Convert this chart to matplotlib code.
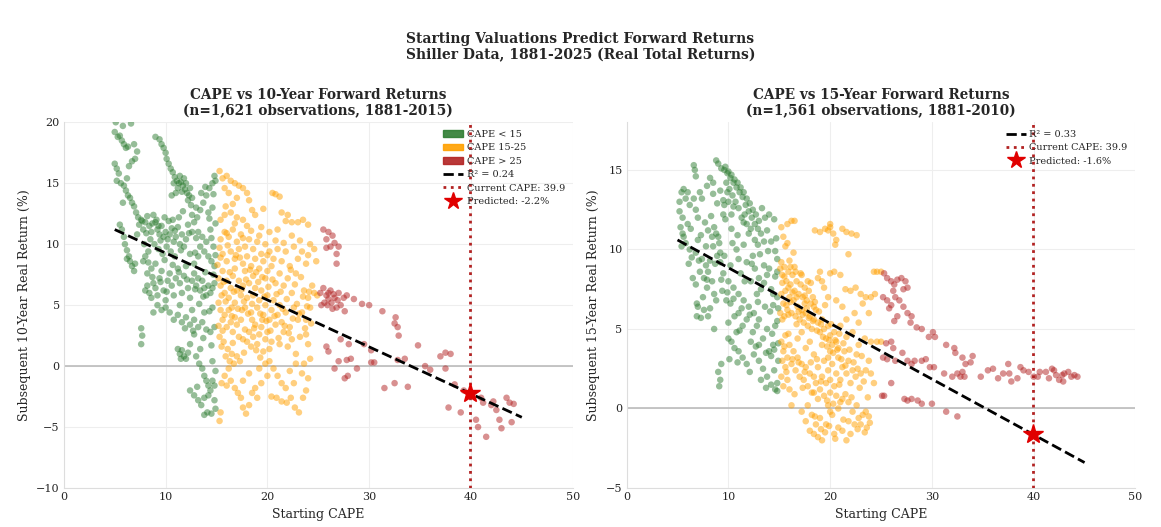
import matplotlib
matplotlib.use("Agg")
import matplotlib.pyplot as plt
import matplotlib.patches as mpatches
from matplotlib.lines import Line2D
import numpy as np
import seaborn as sns

# ---- data (CAPE, forward real return %) ----
# 10-year panel
cape10 = [
    # CAPE < 15
    5.0, 5.1, 5.3, 5.5, 5.7, 5.9, 6.1, 6.3, 6.6, 5.8, 6.9, 7.2, 7.0, 6.7, 6.4, 5.0, 5.2, 5.4, 5.2, 5.6,
    5.9, 6.1, 6.3, 6.5, 6.7, 6.9, 6.2, 5.8, 7.1, 7.3,
    9.0, 9.4, 9.6, 9.8, 10.0, 10.1, 10.3, 10.5, 10.7, 10.9, 11.1, 11.3, 11.5, 11.7, 11.9, 12.1, 12.3, 11.2,
    11.6, 12.0, 12.4, 11.8, 11.4, 10.8, 12.2, 12.5, 11.0, 10.6, 12.6,
    12.8, 13.1, 13.4, 13.7, 14.0, 14.3, 14.6, 14.8, 14.9, 13.5, 13.2, 13.6, 14.0, 14.4, 14.7, 12.6, 13.0,
    14.2, 14.6,
    7.4, 7.6, 7.8, 8.0, 8.2, 8.4, 8.6, 8.8, 9.0, 9.2, 9.4, 9.6, 9.8, 10.0, 10.2, 10.4, 10.6, 10.8, 11.0,
    11.2, 11.4, 11.6, 11.8, 12.0, 8.5, 8.9, 9.3, 9.7, 10.1, 10.5, 10.9, 9.1, 9.9, 10.7, 7.2, 7.9, 8.3,
    11.3, 12.2, 12.6, 13.0, 13.4, 13.8, 14.2, 14.5, 14.8, 13.2, 12.8, 12.4,
    5.5, 5.7, 5.9, 6.0, 6.2, 6.4, 6.5, 6.7, 6.9, 7.0, 6.2,
    8.0, 8.2, 8.4, 8.6, 8.8, 9.0, 9.2, 9.4, 9.6, 9.8, 10.0, 10.2, 10.4, 10.6, 10.8, 11.0, 11.2, 11.4, 11.6,
    11.8, 12.0, 12.2, 12.4, 12.6, 12.8, 13.0, 13.2, 13.4, 13.6, 13.8, 14.0, 14.2, 14.4, 14.6, 14.8, 10.0,
    10.4, 10.8, 11.2, 11.6, 12.0, 12.4, 12.8, 13.2, 13.6, 14.0, 14.4, 14.8, 9.6, 9.2, 8.8, 11.4, 12.6, 13.8,
    14.6, 9.0, 8.6, 8.2, 7.8, 8.0,
    7.6, 7.7, 7.6, 11.2, 11.4, 11.6, 11.8, 12.0, 11.5, 12.2, 12.4, 12.8, 13.0, 13.3, 13.6, 13.8, 14.0, 14.2,
    14.4, 14.6, 14.8, 14.9, 14.2, 13.8, 13.2, 12.8, 13.5, 13.8, 14.1, 14.5, 14.8, 13.4, 14.6, 12.4,
    8.1, 8.7, 9.3, 9.5, 10.3, 10.9, 11.5, 12.3, 7.7, 9.9, 10.7, 11.3, 12.1, 12.9, 13.3, 13.7, 14.3, 14.7,
    14.9, 13.9, 14.5, 12.9, 11.7, 10.1, 9.5, 8.7, 8.3, 14.9, 14.3, 13.9, 14.7, 11.9, 12.7, 13.7, 14.5, 14.9,
    13.1,
    # CAPE 15-25
    15.3, 15.6, 16.0, 16.4, 16.8, 17.2, 17.6, 18.0, 18.2, 15.8, 16.2, 17.0, 18.5, 20.5, 20.8, 21.2, 15.4,
    15.8, 16.4, 17.0, 17.6, 21.4, 22.0, 22.4, 23.0, 23.5, 24.0, 18.8, 19.4, 20.2, 21.0,
    15.4, 15.8, 16.2, 16.6, 17.0, 17.4, 17.8, 18.2, 18.6, 19.0, 19.4, 19.8, 20.2, 20.6, 21.0, 21.4, 21.8,
    22.2, 22.6, 23.0, 23.4, 23.8, 24.2, 24.6, 24.8, 15.6, 16.0, 16.4, 16.8, 17.2, 17.6, 18.0, 18.4, 18.8,
    19.2, 19.6, 20.0, 20.4, 21.2, 22.0, 22.8,
    15.2, 15.4, 15.6, 15.8, 16.0, 16.2, 16.4, 16.6, 16.8, 17.0, 17.2, 17.4, 17.6, 17.8, 18.0, 18.2, 18.4,
    18.6, 18.8, 19.0, 19.2, 19.4, 19.6, 19.8, 20.0, 20.2, 20.4, 20.6, 20.8, 21.0, 21.2, 21.4, 21.8, 22.2,
    22.6, 23.0, 23.4, 23.8, 15.2, 15.4, 15.6, 15.8, 16.0, 16.2, 16.4, 16.6, 16.8, 17.0, 17.2, 17.4, 17.6,
    17.8, 18.0, 18.2, 18.4, 18.6, 18.8, 19.0, 19.2, 19.4, 19.6, 19.8, 20.0, 20.2, 20.4, 15.3, 15.5, 15.7,
    15.9, 16.1, 16.3, 16.5, 16.7, 17.0, 17.3, 24.4, 24.6, 24.9, 24.2, 24.0, 23.6, 22.4, 21.6, 20.8, 19.8,
    18.6, 17.8, 16.8, 23.2, 23.8, 24.0, 22.8, 24.2, 23.6, 21.2, 22.0, 15.5, 16.5, 17.5, 18.5, 19.5, 21.6,
    22.4,
    15.5, 15.8, 16.0, 16.4, 16.8, 17.1, 17.4, 17.6, 17.9, 18.2, 18.5, 18.8, 19.0, 15.3, 15.4, 16.2, 17.6,
    18.2, 19.2, 19.8, 20.2, 20.6, 21.0, 21.4, 21.8, 20.4, 20.9, 21.4, 21.9, 22.3, 22.7, 23.1, 23.5, 23.8,
    24.0, 22.6, 22.2, 22.8, 23.4, 20.0, 19.4,
    15.1, 15.3, 15.7, 15.9, 16.1, 16.3, 16.5, 16.7, 16.9, 17.1, 17.3, 17.5, 17.7, 17.9, 18.1, 18.3, 18.5,
    18.7, 18.9, 19.1, 19.3, 19.5, 19.7, 19.9, 20.1, 20.3, 20.5, 20.7, 20.9, 21.1, 21.3, 21.5, 21.7, 21.9,
    22.1, 22.3, 22.5, 22.7, 22.9, 23.1, 23.3, 23.5, 23.7, 23.9, 24.1, 24.3, 15.2, 15.6, 16.6, 17.7, 18.9,
    19.3, 15.4, 16.0, 16.8, 17.6, 18.4, 19.2, 20.0, 20.8, 21.6, 22.4, 23.2, 24.0, 21.8, 19.6, 18.0, 16.6,
    15.9,
    # CAPE > 25
    25.5, 26.0, 26.4, 25.8, 26.2, 25.8, 26.6, 27.0, 26.8, 26.8, 25.2, 25.5, 25.8, 26.0, 26.3, 26.6, 26.9,
    27.2, 27.5, 27.8, 25.6, 26.2, 26.8, 27.6, 25.3, 26.4, 26.0, 26.5, 27.0, 25.9, 28.5, 29.3, 30.0, 31.3,
    32.6, 32.5, 32.8, 32.9, 28.0, 29.5, 30.2, 27.8, 28.2, 27.2, 25.8, 26.0, 27.0, 26.6, 28.8, 27.9, 27.6,
    30.2, 30.5, 31.5, 32.5, 33.8, 32.8, 33.5, 34.8, 35.5, 36.0, 37.0, 37.5, 38.0, 37.5, 38.4, 37.8, 39.0,
    40.5, 40.7, 41.0, 41.5, 42.0, 42.5, 42.8, 43.0, 43.5, 43.8, 44.2, 44.0, 39.3, 41.2, 42.2,
]
ret10 = [
    19.2, 20.0, 18.8, 18.9, 18.5, 18.2, 17.9, 18.0, 19.9, 19.7, 18.2, 17.6, 17.0, 16.8, 16.4, 16.6, 16.2,
    15.8, 15.2, 15.0, 14.8, 14.4, 14.0, 13.8, 13.4, 13.1, 15.4, 13.4, 12.6, 12.2,
    18.8, 18.6, 18.2, 17.9, 17.5, 17.0, 16.6, 16.2, 15.9, 15.5, 15.2, 15.0, 15.1, 14.8, 14.5, 14.2, 14.0,
    14.6, 14.3, 15.0, 14.6, 15.4, 15.6, 15.0, 13.6, 13.2, 14.2, 14.0, 13.8,
    11.8, 12.2, 12.8, 13.4, 14.0, 14.6, 15.0, 15.6, 15.2, 14.2, 11.0, 10.6, 10.2, 11.2, 9.8, 12.4, 13.0,
    12.6, 13.0,
    11.6, 12.0, 11.2, 11.8, 12.3, 11.5, 11.0, 12.4, 11.8, 11.2, 10.8, 11.5, 10.6, 11.0, 10.4, 10.8, 11.3,
    10.2, 10.6, 11.4, 10.0, 10.8, 9.8, 10.4, 10.4, 10.0, 9.6, 9.2, 9.8, 9.4, 9.0, 12.0, 12.2, 12.0, 10.8,
    10.0, 9.4, 12.2, 11.6, 11.0, 10.5, 9.8, 9.4, 9.0, 8.6, 8.2, 9.0, 8.4, 9.2,
    11.6, 11.2, 10.6, 10.0, 9.5, 9.0, 8.6, 8.2, 7.8, 8.4, 8.8,
    6.2, 6.6, 6.0, 5.6, 6.8, 6.4, 5.8, 7.2, 7.8, 6.2, 5.4, 7.0, 7.6, 6.6, 5.8, 7.2, 8.0, 6.8, 6.0, 7.4,
    8.2, 6.4, 5.6, 7.0, 7.6, 6.6, 7.2, 6.2, 7.0, 6.4, 5.8, 6.6, 6.0, 6.4, 6.8, 4.8, 4.4, 3.8, 4.2, 3.6,
    4.0, 3.4, 3.8, 3.2, 3.6, 3.0, 2.8, 3.2, 4.6, 5.0, 4.4, 5.0, 4.6, 4.4, 4.8, 8.4, 8.0, 7.6, 8.6, 9.0,
    3.1, 2.5, 1.8, 1.4, 1.0, 1.3, 0.8, 0.6, 0.6, 1.1, 1.8, 2.6, 0.8, 0.2, -0.2, -0.8, -1.2, -1.6, -2.0,
    -1.2, -1.6, -0.4, -2.4, -2.6, -2.8, -2.4, -3.2, -4.0, -3.8, -3.9, -2.8, 1.4, 0.4, -2.0,
    10.9, 11.7, 11.5, 10.3, 11.9, 11.1, 9.5, 10.9, 11.9, 8.7, 8.3, 7.7, 7.1, 6.3, 5.1, 5.7, 4.5, 7.5, 9.1,
    7.7, 10.5, 9.3, 12.7, 6.1, 6.9, 7.3, 8.5, 11.7, 12.1, 14.7, 14.1, 3.1, 2.9, 2.3, 1.7, -3.5, -1.7,
    16.0, 15.4, 15.6, 15.2, 15.0, 14.8, 14.6, 14.2, 13.6, 14.6, 14.2, 13.8, 12.8, 14.2, 14.1, 13.9, 12.0,
    12.4, 12.6, 12.2, 12.0, 12.6, 12.4, 11.8, 11.8, 12.0, 11.6, 12.4, 11.4, 11.0, 11.2,
    10.4, 11.0, 10.6, 11.2, 10.2, 10.8, 9.8, 10.4, 9.6, 10.2, 9.2, 10.0, 9.4, 8.8, 9.6, 8.6, 9.4, 8.2, 9.8,
    8.8, 9.4, 8.4, 10.0, 9.6, 8.6, 9.2, 8.6, 9.4, 8.8, 9.6, 8.4, 9.0, 8.2, 8.8, 8.0, 8.6, 7.8, 8.2, 7.6,
    7.2, 7.6,
    7.2, 6.6, 7.8, 6.0, 7.0, 5.6, 6.4, 7.4, 5.2, 6.2, 7.0, 5.8, 6.6, 4.8, 5.6, 6.8, 4.4, 5.8, 6.4, 4.8,
    5.4, 6.2, 4.2, 5.0, 5.8, 3.8, 4.6, 5.4, 3.4, 4.2, 5.0, 3.6, 4.4, 3.2, 4.8, 3.8, 4.4, 3.8, 5.2, 4.6,
    3.8, 4.2, 3.2, 4.6, 3.6, 2.8, 4.0, 3.4, 2.4, 3.8, 2.2, 3.0, 2.0, 2.8, 1.6, 2.4, 3.4, 1.8, 2.6, 3.2,
    1.2, 2.2, 2.8, 1.4, 2.0, 2.4, 1.6, 2.0, 0.8, 1.4, 0.4, 1.0, 0.2, 0.8, 0.4, 6.6, 6.0, 5.8, 4.8, 5.6,
    6.2, 6.0, 6.6, 6.8, 7.2, 7.4, 7.8, 8.0, 2.4, 2.6, 1.8, 1.0, 0.6, 0.2, 1.8, 1.6, 5.8, 4.8, 4.6, 3.8,
    3.8, 2.8, 2.2,
    -1.4, -0.8, -1.6, -1.2, -1.8, -2.2, -2.6, -3.4, -3.9, -3.2, -2.2, -1.8, -2.6, -4.5, -3.8, -0.2, -1.2,
    -0.6, -0.2, 0.2, 0.4, -0.2, -0.8, -1.4, -1.8, -2.5, -2.6, -2.9, -3.0, -2.6, -3.4, -3.8, -2.6, -2.0,
    -1.0, -1.4, -0.4, 0.2, -0.6, -0.8, -1.4,
    8.3, 9.7, 6.9, 5.3, 9.9, 7.7, 4.1, 6.1, 9.1, 4.7, 8.9, 6.3, 5.3, 7.1, 4.3, 7.9, 5.1, 3.1, 7.7, 6.9,
    4.3, 7.3, 5.7, 3.7, 6.5, 2.9, 7.1, 4.1, 5.9, 2.3, 6.1, 4.7, 3.3, 5.5, 2.7, 7.9, 3.9, 6.7, 5.1, 4.3,
    7.3, 5.7, 3.1, 4.9, 6.1, 3.5, 3.3, 2.9, 1.9, 1.1, 1.3, 0.7, 8.9, 10.9, 11.7, 10.5, 11.1, 10.7, 9.1,
    10.3, 10.1, 10.7, 10.3, 9.1, 11.9, 12.9, 11.5, 13.3, 13.1,
    11.2, 11.0, 10.7, 10.4, 9.8, 9.7, 10.1, 9.8, 9.2, 8.4, 6.0, 6.4, 5.8, 5.5, 5.2, 5.6, 5.4, 5.0, 5.6,
    5.8, 5.2, 6.2, 4.8, 4.5, 5.0, 4.7, 6.0, 5.9, 6.0, 5.0, 5.5, 5.1, 5.0, 4.5, 4.0, 3.5, 3.2, 2.5, 1.8,
    1.8, 1.3, 0.5, 0.6, 2.2, 1.6, 1.2, 0.4, -0.2, -0.2, -0.8, -1.0, 0.3, 0.3, -1.8, -1.4, -1.7, 0.5, 0.6,
    1.7, 0.0, -0.3, 0.8, 1.1, 1.0, -0.2, -1.5, -3.4, -3.8, -4.4, -5.0, -2.6, -5.8, -3.2, -3.6, -4.4, -5.1,
    -2.6, -3.0, -3.1, -4.6, -2.0, -3.0, -2.9,
]

# 15-year panel
cape15 = [
    5.2, 5.4, 5.6, 5.8, 6.0, 6.2, 5.2, 5.5, 5.3, 5.5, 5.8, 5.4, 6.2, 6.4, 6.6, 6.8, 7.0, 6.6, 6.7, 6.8,
    7.2, 7.4, 5.6, 6.0, 7.0, 6.8,
    6.5, 6.8, 6.9, 7.0, 6.9, 7.3, 7.5, 7.6, 7.8, 8.0, 8.2, 8.4, 8.6, 8.8, 8.2, 7.9, 8.5, 8.8, 8.6, 9.0,
    8.9, 9.2, 9.1, 7.4, 7.8, 8.0, 8.4, 7.2, 7.6, 8.6, 8.0,
    8.8, 9.0, 9.3, 9.6, 9.9, 10.2, 10.5, 10.8, 11.1, 11.4, 11.7, 12.0, 12.3, 12.6, 12.9, 13.2, 13.5, 9.8,
    10.1, 10.4, 10.0, 9.6, 11.0, 11.6, 12.2, 11.8, 12.6, 8.5, 8.2, 7.9, 8.5, 9.2, 9.5, 10.3, 13.3, 13.6,
    14.0, 14.5, 13.8, 14.2, 14.6, 14.8, 9.7, 10.0, 10.3, 10.6, 10.9, 11.2, 11.5, 11.8, 12.1, 12.4, 12.7,
    13.0, 9.9, 10.7, 11.3, 12.0,
    9.5, 10.0, 10.5, 11.0, 11.5, 12.0, 12.5, 13.0, 10.2, 11.2, 12.2, 13.2, 14.2, 14.6, 14.8, 13.8, 14.4,
    9.8, 10.6, 11.4, 12.4, 13.4, 14.4, 14.8, 13.6, 12.8, 11.8, 10.8, 12.4, 13.5, 9.2, 9.6, 10.4, 11.0,
    11.6, 12.6, 13.0, 14.0, 14.8, 14.4, 9.4, 10.2, 11.0, 11.8, 12.8, 13.8, 14.6, 10.0, 10.8,
    9.3, 9.0, 9.2, 9.1, 10.0, 10.3, 10.6, 11.0, 11.4, 11.8, 12.5, 13.0, 13.4, 13.8, 14.2, 14.6, 14.8, 14.2,
    13.2, 14.5, 14.9, 12.2, 13.0, 14.0, 14.8,
    9.7, 10.3, 10.9, 11.5, 12.3, 13.1, 13.9, 14.7, 9.3, 9.9, 10.5, 11.3, 12.1, 12.9, 13.5, 14.1, 14.9,
    14.3, 13.7, 12.7, 11.1, 10.1, 10.9, 12.1, 13.7, 14.5, 14.9, 8.3, 7.7, 6.3, 7.3, 8.9, 9.5, 10.5, 11.5,
    12.9, 7.1, 7.9, 8.7, 6.1,
    15.1, 15.3, 15.5, 15.7, 15.9, 16.1, 16.3, 16.5, 16.7, 16.9, 17.1, 17.3, 17.5, 17.7, 17.9, 18.1, 18.3,
    15.2, 15.4, 15.6, 15.8, 16.0, 16.2, 16.4, 16.6, 16.8, 17.0, 17.2, 17.4, 17.6, 17.8, 18.0, 18.2, 18.4,
    18.6, 18.8, 19.0, 19.2, 19.4, 19.6, 19.8, 20.0, 20.2, 20.4, 20.6, 15.1, 15.3, 15.5, 16.1, 16.6, 17.2,
    17.8, 15.9, 16.7, 17.5, 18.4, 15.2, 16.0,
    15.2, 15.4, 15.8, 16.2, 16.5, 15.6, 18.5, 19.0, 19.5, 20.0, 20.3, 20.6, 21.2, 21.6, 22.1, 22.6, 20.0,
    19.8, 20.5, 21.8, 15.8, 16.4,
    20.0, 20.4, 21.0, 21.5, 22.0, 22.5, 23.0, 23.5, 24.0, 24.3, 24.6, 18.8, 19.2, 19.4, 19.0, 19.8, 20.6,
    21.2, 22.4, 23.2, 24.4, 23.8, 22.8, 21.6, 23.4, 24.0, 24.6, 22.8, 21.6, 22.2, 21.0,
    15.2, 15.4, 15.6, 15.8, 16.0, 16.2, 16.4, 16.6, 16.8, 17.0, 17.2, 17.4, 17.6, 17.8, 18.0, 18.2, 18.4,
    18.6, 18.8, 19.0, 19.2, 19.4, 19.6, 19.8, 20.0, 20.2, 20.4, 20.6, 20.8, 21.0, 21.2, 21.4, 21.6, 21.8,
    22.0, 22.2, 22.5, 23.0, 23.5, 24.0, 24.3, 23.8, 15.2, 15.4, 15.6, 15.8, 16.0, 16.8, 17.6, 18.4, 19.2,
    20.0, 20.8, 15.3, 17.2, 18.0, 19.8, 22.6, 21.0,
    17.2, 17.6, 18.0, 18.4, 18.8, 19.2, 19.5, 19.6, 20.2, 20.8, 21.2, 21.6, 22.0, 22.4, 22.8, 23.2, 23.5,
    23.8, 23.6, 23.4, 22.6, 21.8, 21.2, 20.6, 20.0, 19.4, 18.8, 18.4, 16.2, 18.2, 19.0, 20.0, 20.4, 21.8,
    22.2, 23.0, 19.8, 18.6, 17.8, 20.8,
    15.3, 15.5, 15.7, 15.9, 16.1, 16.3, 16.5, 16.7, 16.9, 17.1, 17.3, 17.5, 17.7, 17.9, 18.1, 18.3, 18.5,
    18.7, 18.9, 19.1, 19.3, 19.5, 19.7, 19.9, 20.1, 20.3, 20.5, 20.7, 20.9, 21.1, 21.3, 21.5, 21.9, 22.3,
    22.7, 23.1, 23.3, 15.5, 15.7, 16.3, 16.9, 17.5, 18.1, 18.7, 19.1, 19.7, 20.3, 20.9, 21.5, 22.1, 22.9,
    23.7, 19.1, 18.5, 19.9, 21.3, 22.7, 23.9, 20.5, 17.3, 16.5, 15.9,
    25.0, 25.3, 25.6, 26.0, 26.3, 26.6, 27.0, 27.4, 27.6, 25.2, 25.6, 26.0, 26.4, 26.8, 27.2, 27.6, 28.0,
    25.8, 26.2, 26.6, 26.3, 27.9, 27.2,
    28.5, 29.0, 29.7, 30.1, 30.3, 31.4, 32.2, 32.3, 33.0, 33.3, 34.0, 33.8,
    25.0, 25.5, 26.0, 26.2, 25.2, 25.6, 26.4, 27.1, 27.6, 28.0, 28.3, 29.0, 29.4, 29.8, 30.2, 31.2, 32.0,
    32.5, 32.8, 33.0, 33.2, 34.8, 35.5, 36.0, 36.5, 37.0, 37.5, 37.6, 37.8, 38.4, 38.7, 39.0, 39.5, 40.4,
    40.6, 41.2, 41.5, 42.0, 42.2, 42.5, 42.8, 43.0, 43.4, 43.7, 44.0, 44.3, 40.0, 41.8, 42.9,
    25.1, 25.3, 26.0, 27.3, 27.6, 28.0, 28.6, 29.0, 30.0, 31.4, 32.5,
]
ret15 = [
    13.0, 13.6, 13.8, 13.2, 13.6, 12.8, 12.4, 12.0, 11.4, 11.0, 10.4, 10.2, 10.0, 9.5, 13.2, 12.5, 12.0,
    15.3, 15.0, 14.6, 13.6, 13.2, 10.8, 11.6, 10.6, 9.8,
    8.2, 7.8, 6.6, 6.4, 5.8, 5.7, 7.0, 8.2, 9.0, 8.6, 9.3, 8.0, 7.2, 6.8, 6.3, 7.6, 10.2, 11.0, 11.4, 10.8,
    9.6, 9.8, 10.4, 9.4, 10.2, 11.2, 10.8, 8.6, 6.2, 5.0, 5.8,
    15.6, 15.4, 15.1, 15.0, 14.8, 14.5, 14.2, 13.9, 13.6, 13.3, 12.8, 12.4, 12.0, 11.6, 11.3, 11.0, 10.5,
    14.2, 13.8, 13.4, 13.0, 12.8, 12.6, 12.2, 11.3, 11.6, 10.6, 14.2, 14.5, 14.0, 13.5, 13.7, 12.2, 12.2,
    12.6, 12.0, 12.2, 11.9, 11.2, 10.5, 9.9, 9.4, 15.2, 14.9, 14.7, 14.4, 14.2, 13.9, 13.6, 13.2, 12.9,
    12.5, 12.2, 11.8, 13.6, 13.0, 12.0, 11.0,
    8.5, 8.0, 7.6, 7.2, 6.8, 6.4, 6.0, 5.6, 9.0, 8.5, 8.0, 7.5, 7.5, 8.3, 7.0, 8.4, 6.5, 6.8, 5.8, 5.2,
    4.8, 4.4, 4.0, 5.5, 6.4, 7.2, 9.2, 10.0, 9.6, 9.0, 9.2, 9.6, 10.4, 9.4, 8.0, 8.8, 8.2, 8.8, 8.6, 7.2,
    7.4, 6.6, 6.0, 5.6, 5.2, 5.0, 5.2, 5.4, 4.8,
    2.8, 2.3, 1.8, 1.4, 4.4, 4.2, 3.8, 3.6, 3.2, 2.8, 3.4, 3.0, 2.5, 2.0, 1.5, 1.2, 1.6, 3.3, 1.8, 2.4,
    3.0, 4.2, 4.0, 3.6, 1.1,
    11.9, 11.3, 10.9, 10.3, 9.1, 9.7, 9.9, 10.7, 8.1, 7.3, 6.9, 6.3, 5.9, 6.7, 7.9, 6.1, 6.3, 4.7, 3.5,
    3.9, 4.9, 3.1, 2.9, 2.3, 1.3, 3.7, 4.1, 12.1, 11.7, 11.3, 10.9, 12.9, 13.1, 12.7, 11.7, 10.3, 9.3, 8.1,
    9.1, 9.1,
    8.8, 8.4, 8.9, 8.0, 8.6, 7.8, 8.4, 7.4, 8.0, 7.2, 7.8, 7.0, 7.6, 6.8, 7.4, 6.6, 7.0, 7.2, 6.6, 7.4,
    6.2, 7.0, 6.0, 6.8, 5.8, 6.4, 5.6, 6.2, 5.4, 6.0, 5.2, 5.8, 5.0, 5.6, 6.2, 5.4, 4.8, 5.6, 5.0, 4.4,
    5.2, 4.6, 4.0, 4.8, 4.2, 6.0, 5.6, 5.8, 8.9, 8.6, 8.4, 8.0, 7.6, 7.0, 6.6, 6.4, 9.2, 9.3,
    11.4, 10.8, 11.6, 11.8, 11.8, 10.2, 11.2, 11.1, 11.3, 11.4, 11.0, 10.6, 11.3, 11.1, 11.0, 10.9, 11.6,
    11.2, 10.3, 9.7, 10.4, 9.8,
    8.5, 8.6, 8.4, 7.5, 7.4, 7.6, 7.2, 7.0, 7.0, 8.6, 8.6, 8.2, 8.0, 7.6, 8.6, 7.0, 6.8, 6.4, 6.0, 6.6,
    7.2, 6.0, 5.4, 5.6, 4.4, 4.2, 4.2, 4.0, 4.5, 4.8, 5.2,
    4.2, 3.6, 4.6, 3.2, 4.0, 2.8, 3.6, 2.4, 3.2, 2.0, 2.8, 1.8, 2.6, 1.4, 2.2, 1.0, 2.0, 1.6, 2.6, 1.2,
    2.0, 3.0, 1.6, 2.4, 1.8, 2.8, 1.4, 2.2, 3.2, 1.8, 2.6, 3.6, 2.2, 3.0, 1.6, 2.4, 2.0, 2.2, 2.4, 2.2,
    1.6, 3.0, 2.0, 1.4, 2.6, 1.8, 1.2, 4.4, 3.8, 3.4, 4.0, 3.6, 3.8, 3.0, 4.8, 4.2, 3.2, 3.4, 0.4,
    -0.2, -0.8, -1.4, -1.6, -1.8, -2.0, -1.5, -1.0, -0.4, -1.2, -1.4, -2.0, -1.6, -1.0, -0.6, -0.4, -0.2,
    -0.5, -1.2, -1.5, 0.2, 0.4, 0.6, 0.8, 1.0, 0.8, 0.6, 1.0, 0.2, -0.4, -0.6, -0.2, -1.6, -0.8, -0.2,
    -1.0, 0.2, -1.0, 0.2, 0.0,
    7.9, 8.3, 6.5, 5.9, 6.7, 7.3, 8.9, 5.3, 6.1, 8.5, 5.9, 7.1, 6.3, 5.7, 7.9, 5.5, 6.7, 4.9, 6.1, 5.3,
    4.5, 6.5, 3.9, 4.3, 5.3, 3.5, 4.3, 3.7, 4.7, 3.1, 4.1, 2.7, 3.7, 2.9, 2.5, 3.3, 1.7, 3.9, 2.3, 3.1,
    2.9, 2.3, 2.9, 3.1, 1.7, 0.5, 0.3, 1.5, 0.9, 0.7, 1.3, 0.7, -1.3, -0.5, -1.1, -0.7, -1.3, -0.9, -1.9,
    1.3, 0.9, 4.7,
    8.6, 8.5, 8.2, 8.0, 7.8, 8.1, 8.2, 8.0, 7.6, 7.0, 6.8, 6.5, 7.0, 6.8, 6.4, 6.0, 5.8, 6.3, 7.4, 5.8,
    5.5, 5.4, 7.5,
    5.1, 5.0, 4.5, 4.8, 4.5, 4.0, 3.8, 3.5, 3.2, 2.8, 3.3, 2.9,
    4.2, 4.1, 4.2, 3.8, 3.2, 3.1, 3.0, 3.5, 3.0, 2.8, 3.0, 3.0, 3.1, 2.6, 2.6, 2.2, 2.0, 2.2, 2.0, 2.3,
    2.0, 2.0, 2.4, 2.5, 1.9, 2.2, 2.8, 2.2, 1.7, 1.9, 2.6, 2.4, 2.3, 2.0, 2.3, 2.3, 1.9, 2.4, 2.1, 1.8,
    2.1, 2.2, 2.3, 2.0, 2.1, 2.0, 2.0, 2.5, 1.7,
    0.8, 0.8, 1.6, 0.6, 0.5, 0.6, 0.5, 0.3, 0.3, -0.2, -0.5,
]

# fitted lines and current valuation
fit10 = (-0.385, 13.125)   # slope, intercept
fit15 = (-0.350, 12.350)
r2_10, r2_15 = 0.24, 0.33
current_cape = 39.9
pred10, pred15 = -2.2, -1.6
fit_range = (5, 45)

c_low, c_mid, c_high = '#2E7D32', '#FFA000', '#B22222'

sns.set_style('whitegrid')
plt.rcParams['font.family'] = ['DejaVu Serif']

fig, axes = plt.subplots(1, 2, figsize=(11.61, 5.27), dpi=100)
plt.subplots_adjust(left=0.055, right=0.978, top=0.768, bottom=0.074, wspace=0.106)
fig.suptitle('Starting Valuations Predict Forward Returns\nShiller Data, 1881-2025 (Real Total Returns)',
             fontsize=10, fontweight='bold', y=0.94)

panels = [
    (axes[0], cape10, ret10, fit10, r2_10, pred10, (-10, 20),
     'CAPE vs 10-Year Forward Returns\n(n=1,621 observations, 1881-2015)',
     'Subsequent 10-Year Real Return (%)', True),
    (axes[1], cape15, ret15, fit15, r2_15, pred15, (-5, 18),
     'CAPE vs 15-Year Forward Returns\n(n=1,561 observations, 1881-2010)',
     'Subsequent 15-Year Real Return (%)', False),
]

for ax, cape, ret, fit, r2, pred, ylim, title, ylabel, show_bands in panels:
    cape = np.array(cape)
    ret = np.array(ret)
    colors = np.where(cape < 15, c_low, np.where(cape <= 25, c_mid, c_high))
    ax.scatter(cape, ret, c=colors, s=22, alpha=0.5, edgecolors='none', zorder=2)

    xs = np.array(fit_range)
    ax.plot(xs, fit[0] * xs + fit[1], 'k--', lw=2, zorder=3)
    ax.axhline(0, color='#bbbbbb', lw=1.2, zorder=1)
    ax.axvline(current_cape, color=c_high, ls=':', lw=2, zorder=3)
    ax.plot(current_cape, pred, marker='*', color='#e00000', markersize=15, zorder=5)

    ax.set_xlim(0, 50)
    ax.set_ylim(*ylim)
    ax.set_title(title, fontsize=9.8, fontweight='bold', pad=5)
    ax.set_xlabel('Starting CAPE', fontsize=9)
    ax.set_ylabel(ylabel, fontsize=9)
    ax.tick_params(labelsize=8, length=0, pad=3)
    ax.grid(color='#eeeeee', lw=0.8)
    for side in ['top', 'right']:
        ax.spines[side].set_visible(False)
    for side in ['left', 'bottom']:
        ax.spines[side].set_color('#dddddd')

    handles = []
    if show_bands:
        handles += [mpatches.Patch(color=c_low, alpha=0.9, label='CAPE < 15'),
                    mpatches.Patch(color=c_mid, alpha=0.9, label='CAPE 15-25'),
                    mpatches.Patch(color=c_high, alpha=0.9, label='CAPE > 25')]
    handles += [Line2D([], [], color='k', ls='--', lw=2, label=f'R² = {r2:.2f}'),
                Line2D([], [], color=c_high, ls=':', lw=2, label=f'Current CAPE: {current_cape}'),
                Line2D([], [], color='#e00000', marker='*', ls='none', markersize=13,
                       label=f'Predicted: {pred:.1f}%')]
    ax.legend(handles=handles, loc='upper right', fontsize=7, frameon=False,
              handlelength=2, handletextpad=0.4, labelspacing=0.45, borderaxespad=0.4)

plt.savefig('out.png', dpi=100)
